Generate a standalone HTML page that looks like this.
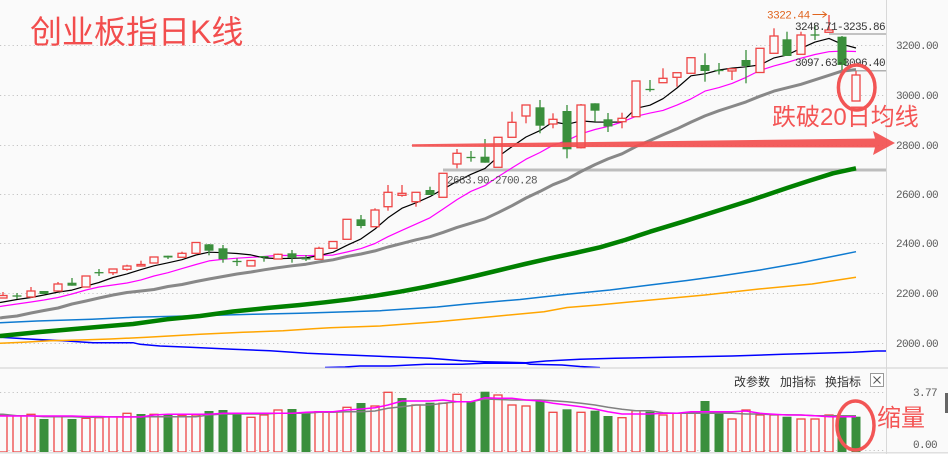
<!DOCTYPE html>
<html><head><meta charset="utf-8"><style>
html,body{margin:0;padding:0;background:#fafafa;}
svg{display:block;}
.r{fill:#fafafa;stroke:#ee4444;stroke-width:1.3}
.g{fill:#3a8f3c}
.rw{stroke:#ee4444;stroke-width:1.3}
.gw{stroke:#3a8f3c;stroke-width:1.3}
.grid{stroke:#c4c4c4;stroke-width:1;stroke-dasharray:1.2,3}
.ax{font-family:"Liberation Mono",monospace;font-size:11px;fill:#5a5a5a;letter-spacing:-0.6px}
.lb{font-family:"Liberation Mono",monospace;font-size:11px;fill:#333;letter-spacing:-0.6px}
.cn{font-family:"Liberation Sans","Noto Sans CJK SC",sans-serif}
</style></head><body>
<svg width="948" height="454" viewBox="0 0 948 454" xmlns="http://www.w3.org/2000/svg">
<rect x="0" y="0" width="948" height="454" fill="#fafafa"/>
<defs>
<clipPath id="mc"><rect x="0" y="0" width="886" height="367.5"/></clipPath>
<clipPath id="vc"><rect x="0" y="369" width="886" height="83"/></clipPath>
</defs>
<!-- grid -->
<line class="grid" x1="0" x2="886" y1="45.5" y2="45.5"/>
<line class="grid" x1="0" x2="886" y1="95.5" y2="95.5"/>
<line class="grid" x1="0" x2="886" y1="145.5" y2="145.5"/>
<line class="grid" x1="0" x2="886" y1="194.5" y2="194.5"/>
<line class="grid" x1="0" x2="886" y1="243.5" y2="243.5"/>
<line class="grid" x1="0" x2="886" y1="293.5" y2="293.5"/>
<line class="grid" x1="0" x2="886" y1="343.5" y2="343.5"/>
<line class="grid" x1="0" x2="886" y1="392.5" y2="392.5"/>
<line class="grid" x1="0" x2="886" y1="450.5" y2="450.5"/>
<!-- frame -->
<line x1="886.5" x2="886.5" y1="0" y2="454" stroke="#d8d8d8" stroke-width="1"/>
<line x1="0" x2="948" y1="368" y2="368" stroke="#d8d8d8" stroke-width="1.2"/>
<line x1="0" x2="948" y1="452.8" y2="452.8" stroke="#d8d8d8" stroke-width="1.2"/>
<rect x="945" y="393" width="3" height="20" fill="#666"/>

<g clip-path="url(#mc)" fill="none" stroke-linejoin="round">
<!-- gap line -->
<line x1="443" x2="886" y1="170" y2="170" stroke="#bdbdbd" stroke-width="3"/>
<line x1="829" x2="886" y1="34" y2="34" stroke="#b0b0b0" stroke-width="1.5"/>
<line x1="846" x2="886" y1="70.7" y2="70.7" stroke="#b0b0b0" stroke-width="1.5"/>
<!-- dark blue lines -->
<polyline stroke="#0000ff" stroke-width="1.5" points="0,337.3 33,339.3 67,341 93,342.7 133,342.7 140,344.3 160,346 190,347.3 233,349.3 270,350.7 307,353.3 330,354.3 430,358.3 462,360.7 484,361.7 526,362.7 546,361 580,359.3 615,358.3 665,357.3 732,356 783,354.3 819,353.3 853,352.3 877,351 886,351"/>
<polyline stroke="#0000ff" stroke-width="1.5" points="325,367.5 345,367 360,366 390,366 426,364.3 462,364.3 484,363.3 526,363.3 530,364.3 562,365 580,366.5 600,367.6"/>
<!-- MA250 orange -->
<polyline stroke="#ffa500" stroke-width="1.5" points="0,343.3 23,342.3 50,340.7 80,340 110,339 147,337.3 200,334.3 243,332.3 283,330.7 313,328.7 330,327.7 380,326 437,321.7 491,316.7 544,311.7 567,307.5 598,305 651,300 705,295 759,289 812,284 856,277.3"/>
<!-- MA120 blue -->
<polyline stroke="#0e7ad0" stroke-width="1.5" points="0,322.7 37,321 92,319.3 133,317.3 187,316 253,314.3 300,313.3 380,310.7 437,307 467,304 520,299.5 567,294.3 610,290 650,285 687,280.5 720,276 760,270 800,263 856,251.7"/>
<!-- MA60 green -->
<polyline stroke="#008000" stroke-width="4.5" points="0,336 37,332.3 63,330 100,326.7 133,324 167,319.3 200,316 233,311.5 267,308 300,305 325,302.3 350,299.3 375,295.8 400,291.7 425,287 450,281.7 475,276 500,270 525,264 550,258.3 575,253 600,247.3 625,240 650,231.7 683,221.7 720,210 750,200.5 787,188 810,180.5 833,173.3 856,168.3"/>
<!-- MA20 gray -->
<polyline stroke="#888" stroke-width="3" points="0,318 3,317.5 17,316 31,313 44,310.5 58,308 72,304 86,301 99,298 113,295 127,292.5 141,291 154,289.5 168,286.5 182,284.5 196,281.5 209,279 223,276.5 237,274 251,272 264,269.8 278,267.7 292,265.8 306,264.2 319,261.9 333,259.8 347,256.5 361,254 375,250.9 388,247 402,243.4 416,239.8 430,236.7 443,232.4 457,227.4 471,223.2 485,218.8 498,212.7 512,205.7 526,198 540,191.4 553,184.7 567,179.2 581,171.5 595,164.6 608,158.9 622,153.8 636,146.5 650,140.5 663,134.8 677,128.8 691,122.1 705,115.9 719,110.7 732,106.5 746,101.9 760,96.2 774,91.1 787,87.8 801,84.3 815,79.8 829,75.3 842,71.1 856,69.6"/>
<!-- MA10 magenta -->
<polyline stroke="#ff00ff" stroke-width="1.2" points="0,306.5 3,306 17,304 31,302 44,300 58,297.5 72,294 86,290 99,287 113,285 127,283 141,279.9 154,276 168,272.7 182,268.6 196,264.5 209,260.9 223,259.3 237,258.2 251,257.3 264,256.5 278,255.4 292,255.5 306,255.7 319,255.2 333,255.1 347,252 361,248.6 375,243.5 388,236.7 402,230.3 416,224.1 430,217.8 443,209.1 457,199.6 471,191.3 485,185.6 498,176.7 512,167.9 526,159.2 540,152.5 553,145.2 567,140.6 581,133.8 595,129.5 608,126.4 622,122 636,116.3 650,113.1 663,110.4 677,105.1 691,98.9 705,91.1 719,87.6 732,83.4 746,77.4 760,70.4 774,65.9 787,62.5 801,58.2 815,54.5 829,51.7 842,51.1 856,51.5"/>
<!-- MA5 black -->
<polyline stroke="#000" stroke-width="1.2" points="0,302.5 3,302 17,299.5 31,297.5 44,295 58,292.1 72,290.1 86,286.1 99,282.5 113,277.5 127,273.9 141,269.6 154,265.8 168,262.8 182,259.7 196,255 209,252.2 223,252.7 237,253.5 251,254.9 264,257.9 278,258.6 292,258.3 306,257.9 319,255.5 333,252.3 347,245.3 361,238.9 375,229 388,217.8 402,208.2 416,202.8 430,196.6 443,189.2 457,181.4 471,174.3 485,168.4 498,156.8 512,146.6 526,137 540,130.6 553,121.9 567,124.3 581,120.9 595,122 608,122.2 622,122 636,108.3 650,105.2 663,98.7 677,88 691,75.8 705,73.8 719,70 732,68.1 746,66.8 760,64.9 774,57.9 787,55 801,48.3 815,42.1 829,38.4 842,44.2 856,48"/>
</g>

<!-- candles -->
<g>
<line class="rw" x1="3" x2="3" y1="292" y2="298"/><rect class="r" x="-1" y="295.5" width="8" height="2.5"/>
<line class="gw" x1="17" x2="17" y1="293" y2="299"/><line class="gw" x1="12.5" x2="21.5" y1="296" y2="296"/>
<line class="rw" x1="31" x2="31" y1="287" y2="298"/><rect class="r" x="27" y="291" width="8" height="6"/>
<rect class="g" x="39.5" y="291" width="9" height="3"/>
<line class="rw" x1="58" x2="58" y1="282" y2="291"/><rect class="r" x="54" y="284" width="8" height="7"/>
<line class="gw" x1="72" x2="72" y1="278" y2="285.7"/><rect class="g" x="67.5" y="282.7" width="9" height="3"/>
<rect class="r" x="82" y="276" width="8" height="11"/>
<line class="gw" x1="99" x2="99" y1="269" y2="276"/><line class="gw" x1="94.5" x2="103.5" y1="272.7" y2="272.7"/>
<line class="rw" x1="113" x2="113" y1="269" y2="275"/><rect class="r" x="109" y="269" width="8" height="3.7"/>
<line class="rw" x1="127" x2="127" y1="264.7" y2="270.7"/><rect class="r" x="123" y="266" width="8" height="3.3"/>
<line class="rw" x1="141" x2="141" y1="260.7" y2="266"/><rect class="r" x="137" y="264.5" width="8" height="1.5"/>
<rect class="r" x="150" y="257" width="8" height="6"/>
<line class="gw" x1="168" x2="168" y1="255.7" y2="259"/><rect class="g" x="163.5" y="255.7" width="9" height="1.8"/>
<line class="rw" x1="182" x2="182" y1="251.7" y2="257.3"/><rect class="r" x="178" y="253.3" width="8" height="4"/>
<rect class="r" x="192" y="242.5" width="8" height="10.8"/>
<line class="gw" x1="209" x2="209" y1="244" y2="255.3"/><rect class="g" x="204.5" y="244.3" width="9" height="6.4"/>
<line class="gw" x1="223" x2="223" y1="245" y2="262.7"/><rect class="g" x="218.5" y="248.3" width="9" height="11"/>
<line class="gw" x1="237" x2="237" y1="258.3" y2="266"/><line class="gw" x1="232.5" x2="241.5" y1="261.5" y2="261.5"/>
<rect class="r" x="247" y="260.5" width="8" height="5.5"/>
<line class="gw" x1="264" x2="264" y1="256" y2="261.7"/><rect class="g" x="259.5" y="256" width="9" height="1.5"/>
<line class="rw" x1="278" x2="278" y1="253.5" y2="259"/><rect class="r" x="274" y="254.3" width="8" height="4.7"/>
<line class="gw" x1="292" x2="292" y1="250" y2="262.7"/><rect class="g" x="287.5" y="253.3" width="9" height="4.5"/>
<line class="gw" x1="306" x2="306" y1="255" y2="261"/><rect class="g" x="301.5" y="258" width="9" height="1.5"/>
<line class="rw" x1="319" x2="319" y1="246.7" y2="259.3"/><rect class="r" x="315" y="248.3" width="8" height="11"/>
<line class="rw" x1="333" x2="333" y1="241" y2="248.3"/><rect class="r" x="329" y="241.5" width="8" height="6.8"/>
<rect class="r" x="343" y="219.3" width="8" height="20"/>
<line class="gw" x1="361" x2="361" y1="215" y2="228.3"/><rect class="g" x="356.5" y="219.3" width="9" height="6.7"/>
<line class="rw" x1="375" x2="375" y1="208.3" y2="226.7"/><rect class="r" x="371" y="210" width="8" height="16.7"/>
<line class="rw" x1="388" x2="388" y1="185" y2="210.7"/><rect class="r" x="384" y="192.3" width="8" height="14.4"/>
<line class="rw" x1="402" x2="402" y1="185" y2="196.7"/><rect class="r" x="398" y="193.3" width="8" height="2"/>
<line class="rw" x1="416" x2="416" y1="192.3" y2="206.7"/><rect class="r" x="412" y="192.3" width="8" height="9.4"/>
<line class="gw" x1="430" x2="430" y1="186.7" y2="195"/><rect class="g" x="425.5" y="190" width="9" height="5"/>
<rect class="r" x="439" y="173.3" width="8" height="24"/>
<line class="rw" x1="457" x2="457" y1="149" y2="168.3"/><rect class="r" x="453" y="153.3" width="8" height="10.7"/>
<line class="gw" x1="471" x2="471" y1="151" y2="161.7"/><line class="gw" x1="466.5" x2="475.5" y1="157.5" y2="157.5"/>
<line class="gw" x1="485" x2="485" y1="139" y2="162.7"/><rect class="g" x="480.5" y="156.7" width="9" height="6"/>
<rect class="r" x="494" y="137.3" width="8" height="30"/>
<line class="rw" x1="512" x2="512" y1="111.7" y2="137.3"/><rect class="r" x="508" y="122.3" width="8" height="15"/>
<line class="rw" x1="526" x2="526" y1="105" y2="123.3"/><rect class="r" x="522" y="105" width="8" height="11"/>
<line class="gw" x1="540" x2="540" y1="100" y2="133.3"/><rect class="g" x="535.5" y="107.3" width="9" height="18.4"/>
<line class="rw" x1="553" x2="553" y1="113.3" y2="128.3"/><rect class="r" x="549" y="119.3" width="8" height="4.7"/>
<line class="gw" x1="567" x2="567" y1="105" y2="158.3"/><rect class="g" x="562.5" y="111" width="9" height="38.3"/>
<line class="rw" x1="581" x2="581" y1="104" y2="148.5"/><rect class="r" x="577" y="105" width="8" height="42.7"/>
<line class="gw" x1="595" x2="595" y1="103.3" y2="121.7"/><rect class="g" x="590.5" y="103.3" width="9" height="7.4"/>
<line class="gw" x1="608" x2="608" y1="113" y2="132"/><rect class="g" x="603.5" y="119.3" width="9" height="7.2"/>
<line class="rw" x1="622" x2="622" y1="112.7" y2="128.3"/><rect class="r" x="618" y="118.3" width="8" height="3.4"/>
<rect class="r" x="632" y="81" width="8" height="35.7"/>
<line class="gw" x1="650" x2="650" y1="80" y2="91.7"/><line class="gw" x1="645.5" x2="654.5" y1="89.5" y2="89.5"/>
<line class="rw" x1="663" x2="663" y1="68.3" y2="82.7"/><rect class="r" x="659" y="78.3" width="8" height="4.4"/>
<line class="rw" x1="677" x2="677" y1="72.7" y2="86.7"/><rect class="r" x="673" y="72.7" width="8" height="4.6"/>
<line class="rw" x1="691" x2="691" y1="57" y2="73.3"/><rect class="r" x="687" y="57.7" width="8" height="15.6"/>
<line class="gw" x1="705" x2="705" y1="53.3" y2="81.7"/><rect class="g" x="700.5" y="65" width="9" height="6"/>
<line class="gw" x1="719" x2="719" y1="63" y2="74.5"/><line class="gw" x1="714.5" x2="723.5" y1="70.5" y2="70.5"/>
<line class="rw" x1="732" x2="732" y1="68.8" y2="80"/><rect class="r" x="728" y="68.8" width="8" height="2.2"/>
<line class="gw" x1="746" x2="746" y1="50" y2="83.3"/><rect class="g" x="741.5" y="60" width="9" height="6"/>
<rect class="r" x="756" y="48.3" width="8" height="24.2"/>
<line class="rw" x1="774" x2="774" y1="28.3" y2="53.3"/><rect class="r" x="770" y="36" width="8" height="17.3"/>
<line class="gw" x1="787" x2="787" y1="31.7" y2="56"/><rect class="g" x="782.5" y="39.3" width="9" height="16.7"/>
<line class="rw" x1="801" x2="801" y1="31.7" y2="54.3"/><rect class="r" x="797" y="35" width="8" height="19.3"/>
<line class="gw" x1="815" x2="815" y1="25" y2="40"/><line class="gw" x1="810.5" x2="819.5" y1="35" y2="35"/>
<line class="rw" x1="829" x2="829" y1="15" y2="32.3"/><rect class="r" x="825" y="30" width="8" height="2.3"/>
<line class="gw" x1="842" x2="842" y1="36" y2="70"/><rect class="g" x="837.5" y="36.7" width="9" height="28.3"/>
<line class="rw" x1="856" x2="856" y1="71" y2="101"/><rect class="r" x="852" y="75" width="8" height="26"/>
</g>

<!-- volume -->
<g clip-path="url(#vc)">
<rect class="r" x="-1" y="415" width="8" height="37"/>
<rect class="r" x="13" y="415.7" width="8" height="36.3"/>
<rect class="r" x="27" y="414.3" width="8" height="37.7"/>
<rect class="g" x="39.5" y="419" width="9" height="33"/>
<rect class="r" x="54" y="416.7" width="8" height="35.3"/>
<rect class="g" x="67.5" y="419" width="9" height="33"/>
<rect class="r" x="82" y="418.3" width="8" height="33.7"/>
<rect class="r" x="95" y="417.7" width="8" height="34.3"/>
<rect class="r" x="109" y="416.7" width="8" height="35.3"/>
<rect class="r" x="123" y="413.3" width="8" height="38.7"/>
<rect class="g" x="136.5" y="414" width="9" height="38"/>
<rect class="r" x="150" y="414.3" width="8" height="37.7"/>
<rect class="g" x="163.5" y="414.3" width="9" height="37.7"/>
<rect class="r" x="178" y="415.7" width="8" height="36.3"/>
<rect class="r" x="192" y="415" width="8" height="37"/>
<rect class="g" x="204.5" y="411" width="9" height="41"/>
<rect class="g" x="218.5" y="410" width="9" height="42"/>
<rect class="g" x="232.5" y="414.3" width="9" height="37.7"/>
<rect class="r" x="247" y="417.3" width="8" height="34.7"/>
<rect class="r" x="260" y="415" width="8" height="37"/>
<rect class="r" x="274" y="410" width="8" height="42"/>
<rect class="g" x="287.5" y="409" width="9" height="43"/>
<rect class="g" x="301.5" y="412.3" width="9" height="39.7"/>
<rect class="r" x="315" y="411.7" width="8" height="40.3"/>
<rect class="r" x="329" y="411.7" width="8" height="40.3"/>
<rect class="r" x="343" y="407.3" width="8" height="44.7"/>
<rect class="g" x="356.5" y="403" width="9" height="49"/>
<rect class="r" x="371" y="406" width="8" height="46"/>
<rect class="r" x="384" y="392.3" width="8" height="59.7"/>
<rect class="g" x="397.5" y="398" width="9" height="54"/>
<rect class="r" x="412" y="405" width="8" height="47"/>
<rect class="g" x="425.5" y="402.7" width="9" height="49.3"/>
<rect class="r" x="439" y="403.3" width="8" height="48.7"/>
<rect class="r" x="453" y="394.3" width="8" height="57.7"/>
<rect class="g" x="466.5" y="401.7" width="9" height="50.3"/>
<rect class="g" x="480.5" y="391.7" width="9" height="60.3"/>
<rect class="r" x="494" y="395" width="8" height="57"/>
<rect class="r" x="508" y="405" width="8" height="47"/>
<rect class="r" x="522" y="406" width="8" height="46"/>
<rect class="g" x="535.5" y="401" width="9" height="51"/>
<rect class="r" x="549" y="412.3" width="8" height="39.7"/>
<rect class="g" x="562.5" y="409.3" width="9" height="42.7"/>
<rect class="r" x="577" y="412.3" width="8" height="39.7"/>
<rect class="g" x="590.5" y="410.7" width="9" height="41.3"/>
<rect class="g" x="603.5" y="416" width="9" height="36"/>
<rect class="r" x="618" y="417.7" width="8" height="34.3"/>
<rect class="r" x="632" y="410.7" width="8" height="41.3"/>
<rect class="g" x="645.5" y="411.7" width="9" height="40.3"/>
<rect class="r" x="659" y="415" width="8" height="37"/>
<rect class="r" x="673" y="413.3" width="8" height="38.7"/>
<rect class="r" x="687" y="412.7" width="8" height="39.3"/>
<rect class="g" x="700.5" y="401" width="9" height="51"/>
<rect class="g" x="714.5" y="414" width="9" height="38"/>
<rect class="r" x="728" y="419" width="8" height="33"/>
<rect class="r" x="742" y="410" width="8" height="42"/>
<rect class="r" x="756" y="415" width="8" height="37"/>
<rect class="r" x="770" y="415" width="8" height="37"/>
<rect class="g" x="782.5" y="416.7" width="9" height="35.3"/>
<rect class="r" x="797" y="419" width="8" height="33"/>
<rect class="r" x="811" y="419" width="8" height="33"/>
<rect class="r" x="825" y="415" width="8" height="37"/>
<rect class="g" x="837.5" y="416.7" width="9" height="35.3"/>
<rect class="g" x="851.5" y="416.7" width="9" height="35.3"/>
<polyline fill="none" stroke="#808080" stroke-width="1.5" points="0,414.3 3,414.3 17,415.7 31,415.7 44,416.7 58,416.7 72,416.7 86,417.3 99,417.3 113,416.7 127,416.7 141,416.7 154,416.7 168,416.7 182,416.7 196,416.7 209,415 223,414 237,414 251,414 264,414 278,413.3 292,413.3 306,413.3 319,412.3 333,412.3 347,411.7 361,411.7 375,411 388,408.3 402,406.7 416,405 430,405 443,403.3 457,401.7 471,401.7 485,399 498,399.5 512,400 526,400 540,400 553,400.7 567,401.7 581,403.3 595,405 608,407.3 622,409.3 636,410.7 650,410.7 663,412.7 677,413.3 691,413.3 705,413.3 719,413.3 732,413.3 746,414 760,414 774,414.7 787,414.7 801,415 815,415.7 829,415.7 842,415.7 856,415.7"/>
<polyline fill="none" stroke="#ff00ff" stroke-width="1.5" points="0,416 3,416 17,416 31,416 44,416 58,416 72,416 86,416.5 99,416.5 113,417 127,417 141,417 154,415 168,414.3 182,414.3 196,414.3 209,414.3 223,413.3 237,413.3 251,413.3 264,413.3 278,413.3 292,413.3 306,412.3 319,411.7 333,411.7 347,410 361,409 375,407.7 388,405 402,401 416,401 430,401 443,400 457,401.7 471,401.7 485,397.7 498,398.3 512,398.3 526,400 540,401 553,403.3 567,405 581,406.7 595,409 608,411.7 622,414 636,414 650,414 663,413.3 677,413.3 691,411.7 705,411.7 719,411.7 732,411.7 746,411 760,413.3 774,414.3 787,415 801,415 815,415.7 829,416.7 842,416.7 856,416.7"/>
</g>

<!-- axis labels -->
<text class="ax" x="938" y="49" text-anchor="end">3200.00</text>
<text class="ax" x="938" y="99" text-anchor="end">3000.00</text>
<text class="ax" x="938" y="149" text-anchor="end">2800.00</text>
<text class="ax" x="938" y="198" text-anchor="end">2600.00</text>
<text class="ax" x="938" y="247" text-anchor="end">2400.00</text>
<text class="ax" x="938" y="297" text-anchor="end">2200.00</text>
<text class="ax" x="938" y="347" text-anchor="end">2000.00</text>
<text class="ax" x="937" y="396" text-anchor="end">3.77</text>
<text class="ax" x="937" y="448" text-anchor="end">0.00</text>

<!-- gap labels -->
<text class="lb" x="795" y="30">3248.71-3235.86</text>
<text class="lb" x="795" y="66">3097.63-3096.40</text>
<text class="lb" x="447" y="183.5" style="fill:#555">2683.90-2700.28</text>
<text class="lb" x="767" y="18.3" style="fill:#e0641e;letter-spacing:-0.5px">3322.44</text>
<line x1="812.5" x2="826.5" y1="14.5" y2="14.5" stroke="#e0641e" stroke-width="1"/>
<polyline points="822.5,11.5 826.5,14.5 822.5,17.5" fill="none" stroke="#e0641e" stroke-width="1"/>

<!-- buttons -->
<text class="cn" x="734" y="386" font-size="12" fill="#333">改参数</text>
<text class="cn" x="780" y="386" font-size="12" fill="#333">加指标</text>
<text class="cn" x="825" y="386" font-size="12" fill="#333">换指标</text>
<rect x="870.5" y="373.5" width="13" height="13" fill="#fff" stroke="#999" stroke-width="1"/>
<line x1="873.5" y1="376.5" x2="880.5" y2="383.5" stroke="#555" stroke-width="1"/>
<line x1="880.5" y1="376.5" x2="873.5" y2="383.5" stroke="#555" stroke-width="1"/>

<!-- annotations -->
<polygon points="412,144.2 875,138.5 873,131 895,143 873,155 875,147.5 412,146.8" fill="#f24f4f" opacity="0.92"/>
<ellipse cx="856.7" cy="87.5" rx="18.3" ry="22.5" fill="none" stroke="#f25555" stroke-width="3.5"/>
<ellipse cx="855.5" cy="425.5" rx="18.5" ry="24.5" fill="none" stroke="#f25555" stroke-width="3.5"/>
<text class="cn" x="30" y="43" font-size="32" fill="#f24d4d">创业板指日K线</text>
<text class="cn" x="772" y="125" font-size="24" fill="#f45555">跌破20日均线</text>
<text class="cn" x="877" y="426" font-size="24" fill="#f45555">缩量</text>
</svg>
</body></html>
